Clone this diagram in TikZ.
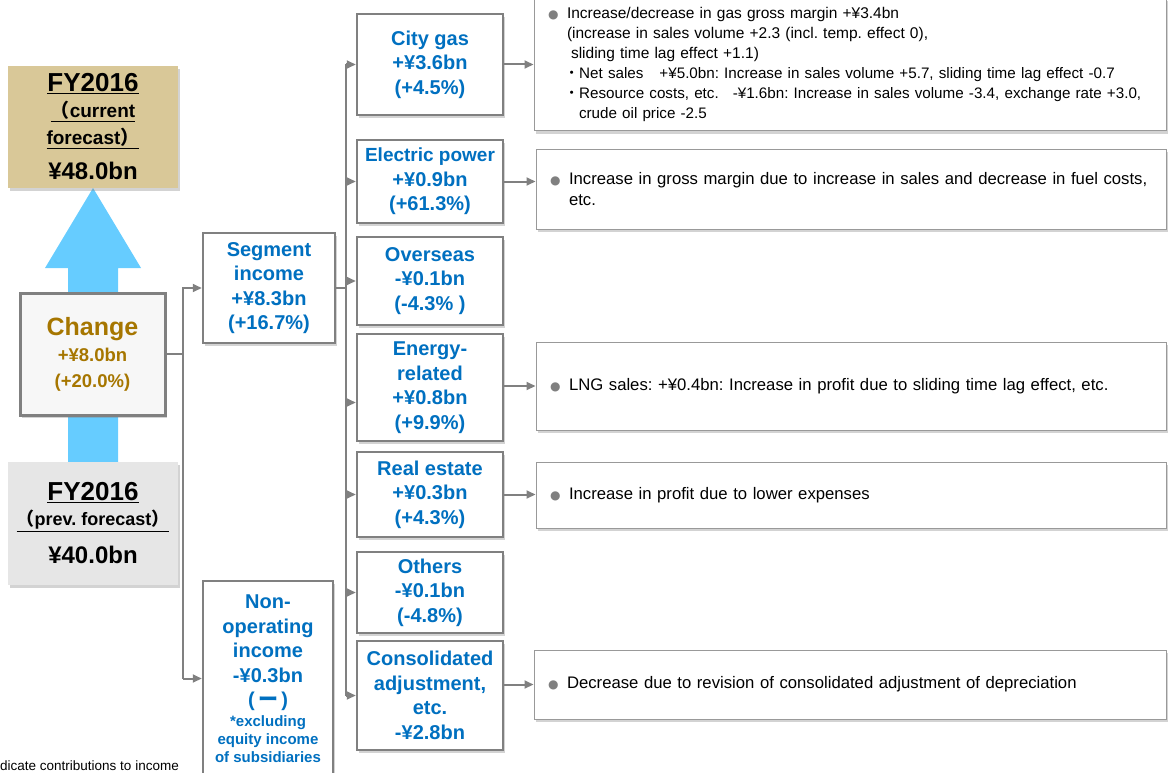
\documentclass[tikz,border=0pt]{standalone}
\usepackage{fontspec}
\setmainfont{Liberation Sans}
\newfontfamily\cjk{Noto Sans CJK JP}
\newfontfamily\symf{DejaVu Sans}
\usetikzlibrary{arrows.meta,shadows,calc}

\definecolor{tanbox}{RGB}{217,200,152}
\definecolor{skyarrow}{RGB}{102,204,255}
\definecolor{segblue}{RGB}{0,112,192}
\definecolor{chgbrown}{RGB}{166,118,0}
\definecolor{linegray}{RGB}{128,128,128}
\definecolor{prevgray}{RGB}{230,230,230}

\newcommand{\fs}[2]{\fontsize{#1}{#2}\selectfont}
\newcommand{\bul}{\makebox[19pt][l]{\color{linegray}\symf\fs{12}{12}●}}
\newcommand{\subdot}{{\cjk ・}}

\begin{document}
\frenchspacing
\begin{tikzpicture}[x=1pt, y=-1pt, >={Triangle[length=9pt,width=8pt]},
  boxshadow/.style={drop shadow={shadow xshift=2pt,shadow yshift=-3pt,opacity=0.35}},
  sumbox/.style={boxshadow, align=center, inner sep=0pt, font=\bfseries\fs{19}{25}},
  segbox/.style={draw=linegray, line width=2.5pt, fill=white, boxshadow, minimum width=146pt,
    text=segblue, align=center, inner sep=0pt, font=\bfseries\fs{20}{24.5}},
  notebox/.style={draw=linegray!80, line width=1pt, fill=white, boxshadow, minimum width=630pt,
    text width=602pt, inner xsep=14pt, align=left, font=\fs{16.7}{21}},
  link/.style={draw=linegray, line width=2pt},
  arr/.style={link, ->}]
  \useasboundingbox (0,0) rectangle (1169,773);

  % up arrow behind the change box
  \fill[skyarrow] (93,188) -- (141,268) -- (118,268) -- (118,470) -- (68,470) -- (68,268) -- (45,268) -- cycle;

  % left column
  \node[sumbox, fill=tanbox, minimum width=170pt, minimum height=122pt] (cur) at (93,127)
    {\fs{26}{26}\underline{FY2016}\\[1pt] \underline{{\cjk （}current}\\[2pt] \underline{forecast{\cjk ）}}\\[10pt] \fs{24}{24}¥48.0bn};
  \node[draw=linegray, line width=3pt, fill=gray!6, boxshadow, minimum width=145pt, minimum height=122pt,
    text=chgbrown, align=center, inner sep=0pt, font=\bfseries\fs{18.5}{26}] (chg) at (92.5,354)
    {\fs{25}{25}Change\\ +¥8.0bn\\ (+20.0\%)};
  \node[sumbox, fill=prevgray, minimum width=170pt, minimum height=123pt] (prev) at (93,523.5)
    {\fs{26}{26}\underline{FY2016}\\ \fs{18}{18}\underline{{\cjk （}prev. forecast{\cjk ）}}\\[13pt] \fs{24}{24}¥40.0bn};

  % second column
  \node[segbox, minimum width=132pt, minimum height=110pt] (seg) at (269,288)
    {Segment\\ income\\ +¥8.3bn\\ (+16.7\%)};
  \node[segbox, minimum width=130pt, minimum height=195pt] (nonop) at (268,678.5)
    {Non-\\ operating\\ income\\ -¥0.3bn\\ (\,{\cjk ー}\,)\\[-5pt] \fs{15}{15}*excluding\\[-6.5pt]
     \fs{15}{15}equity income\\[-6.5pt] \fs{15}{15}of subsidiaries};

  % segments
  \node[segbox, minimum height=101pt] (city) at (430,64.5) {City gas\\ +¥3.6bn\\ (+4.5\%)};
  \node[segbox, minimum height=83pt] (elec) at (430,181.5) {\fs{19}{19}Electric power\\ +¥0.9bn\\ (+61.3\%)};
  \node[segbox, minimum height=88pt] (over) at (430,281) {Overseas\\ -¥0.1bn\\ (-4.3\% )};
  \node[segbox, minimum height=107pt] (energy) at (430,387.5) {Energy-\\ related\\ +¥0.8bn\\ (+9.9\%)};
  \node[segbox, minimum height=85pt] (realest) at (430,494.5) {Real estate\\ +¥0.3bn\\ (+4.3\%)};
  \node[segbox, minimum height=81pt] (others) at (430,592.5) {Others\\ -¥0.1bn\\ (-4.8\%)};
  \node[segbox, minimum height=109pt] (consol) at (430,695.5) {Consolidated\\ adjustment,\\ etc.\\ -¥2.8bn};

  % notes
  \node[notebox, minimum width=632pt, text width=604pt, minimum height=133pt, font=\fs{15.5}{20}] (gasnote) at (850,64.5)
    {\bul Increase/decrease in gas gross margin +¥3.4bn\\
     \hspace*{19pt}(increase in sales volume +2.3 (incl. temp. effect 0),\\
     \hspace*{23pt}sliding time lag effect +1.1)\\
     \fs{15.2}{20}\hspace*{16pt}\subdot Net sales\hspace{16pt}+¥5.0bn: Increase in sales volume +5.7, sliding time lag effect -0.7\\
     \hspace*{16pt}\subdot Resource costs, etc.\hspace{14pt}-¥1.6bn: Increase in sales volume -3.4, exchange rate +3.0,\\
     \hspace*{31pt}crude oil price -2.5};
  \node[notebox, minimum height=80pt] (elecnote) at (851,189)
    {\bul Increase in gross margin due to increase in sales and decrease in fuel costs,\\ \hspace*{19pt}etc.};
  \node[notebox, minimum height=88pt] (lngnote) at (851,386)
    {\bul LNG sales: +¥0.4bn: Increase in profit due to sliding time lag effect, etc.};
  \node[notebox, minimum height=66pt] (renote) at (851,495) {\bul Increase in profit due to lower expenses};
  \node[notebox, minimum width=632pt, text width=604pt, minimum height=69pt] (connote) at (850,684.5)
    {\bul Decrease due to revision of consolidated adjustment of depreciation};

  \node[anchor=base west, inner sep=0pt, font=\fs{13.5}{13.5}] (foot) at (0,770.5) {dicate contributions to income};

  % connectors
  \coordinate (t1) at (183,0);
  \coordinate (t2) at (346,0);
  \coordinate (ein) at ($(energy.west)+(0,15)$);
  \draw[link] (chg.east) -- (chg.east -| t1);
  \draw[arr] (t1 |- nonop.west) -- (t1 |- seg.west) -- (seg.west);
  \draw[arr] (t1 |- nonop.west) -- (nonop.west);
  \draw[link] (seg.east) -- (seg.east -| t2);
  \draw[link] (t2 |- city.west) -- (t2 |- consol.west);
  \foreach \n in {city,elec,over,realest,others,consol}
    \draw[arr] (t2 |- \n.west) -- (\n.west);
  \draw[arr] (t2 |- ein) -- (ein);
  \draw[arr] (city.east) -- (city.east -| gasnote.west);
  \draw[arr] (elec.east) -- (elec.east -| elecnote.west);
  \draw[arr] (lngnote.west -| energy.east) -- (lngnote.west);
  \draw[arr] (realest.east) -- (realest.east -| renote.west);
  \draw[arr] (connote.west -| consol.east) -- (connote.west);
\end{tikzpicture}
\end{document}
